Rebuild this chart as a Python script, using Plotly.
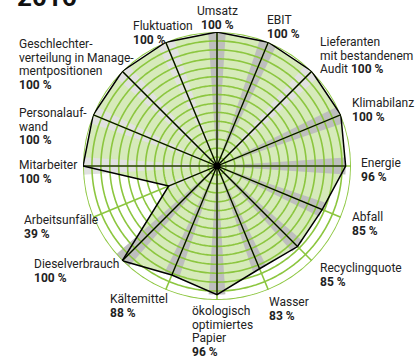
import numpy as np
import plotly.graph_objects as go

W, H = 417, 358

# ---- data ----
categories = ["Umsatz", "EBIT", "Lieferanten mit bestandenem Audit", "Klimabilanz",
              "Energie", "Abfall", "Recyclingquote", "Wasser",
              "ökologisch optimiertes Papier", "Kältemittel", "Dieselverbrauch",
              "Arbeitsunfälle", "Mitarbeiter", "Personalaufwand",
              "Geschlechterverteilung in Managementpositionen", "Fluktuation"]
values = [100, 100, 100, 100, 96, 85, 85, 83, 96, 88, 100, 39, 100, 100, 100, 100]
band_group = ["dark", "dark", "light", "dark", "dark", "dark", "dark", "dark",
              "dark", "dark", "dark", "light", "light", "light", "light", "light"]
label_lines = [
    ["Umsatz", "<b>100 %</b>"],
    ["EBIT", "<b>100 %</b>"],
    ["Lieferanten", "mit bestandenem", "Audit <b>100 %</b>"],
    ["Klimabilanz", "<b>100 %</b>"],
    ["Energie", "<b>96 %</b>"],
    ["Abfall", "<b>85 %</b>"],
    ["Recyclingquote", "<b>85 %</b>"],
    ["Wasser", "<b>83 %</b>"],
    ["ökologisch", "optimiertes", "Papier", "<b>96 %</b>"],
    ["Kältemittel", "<b>88 %</b>"],
    ["Dieselverbrauch", "<b>100 %</b>"],
    ["Arbeitsunfälle", "<b>39 %</b>"],
    ["Mitarbeiter", "<b>100 %</b>"],
    ["Personalauf-", "wand", "<b>100 %</b>"],
    ["Geschlechter-", "verteilung in Manage-", "mentpositionen", "<b>100 %</b>"],
    ["Fluktuation", "<b>100 %</b>"],
]
title_text = "2016"

# ---- layout helpers (positions in pixels) ----
label_x = [217, 265, 318, 350, 359, 350, 318, 267, 190, 108, 32, 22, 17, 17, 17, 131]
label_y = [11, 20, 42, 103, 163, 217, 268, 302, 311, 299, 264, 220, 165, 113, 44, 26]
label_anchor = ["center"] + ["left"] * 15
LINE_H = 13.6

cx, cy, R = 217, 166, 134
n = len(categories)
theta = [i * 360.0 / n for i in range(n)]
BAND_W = 7.5  # degrees

GREEN = "#8cc63f"
FILL = "rgba(140,198,63,0.36)"
DARK = "#bebebe"
LIGHT = "#e1e1e1"

fig = go.Figure()

# filled polygon
fig.add_trace(go.Scatterpolar(r=values + [values[0]], theta=theta + [theta[0]],
                              mode="lines", fill="toself", fillcolor=FILL,
                              line=dict(width=0), hoverinfo="skip"))
# grey bands (wedges from centre to value)
for a, v, g in zip(theta, values, band_group):
    arc = list(np.linspace(a - BAND_W / 2, a + BAND_W / 2, 9))
    col = DARK if g == "dark" else LIGHT
    fig.add_trace(go.Scatterpolar(r=[0] + [v] * len(arc) + [0], theta=[a] + arc + [a],
                                  mode="lines", fill="toself", fillcolor=col,
                                  line=dict(width=0, color=col), hoverinfo="skip"))
# green grid rings
ticks = [100.0 * k / 15 for k in range(1, 16)]
circ = np.linspace(0, 360, 361)
rr, tt = [], []
for t in ticks[:-1]:
    rr += [t] * len(circ) + [None]
    tt += list(circ) + [None]
fig.add_trace(go.Scatterpolar(r=rr, theta=tt, mode="lines",
                              line=dict(color=GREEN, width=1.6), hoverinfo="skip"))
fig.add_trace(go.Scatterpolar(r=[100] * len(circ), theta=list(circ), mode="lines",
                              line=dict(color=GREEN, width=2), hoverinfo="skip"))
# green spokes
sr, st = [], []
for a in theta:
    sr += [0, 100, None]
    st += [a, a, None]
fig.add_trace(go.Scatterpolar(r=sr, theta=st, mode="lines",
                              line=dict(color=GREEN, width=1.6), hoverinfo="skip"))
# black spokes to values
br, bt = [], []
for a, v in zip(theta, values):
    br += [0, v, None]
    bt += [a, a, None]
fig.add_trace(go.Scatterpolar(r=br, theta=bt, mode="lines",
                              line=dict(color="black", width=1.2), hoverinfo="skip"))
# polygon outline
fig.add_trace(go.Scatterpolar(r=values + [values[0]], theta=theta + [theta[0]],
                              mode="lines", line=dict(color="black", width=1.5),
                              hoverinfo="skip"))
# center dot
fig.add_trace(go.Scatterpolar(r=[0], theta=[0], mode="markers",
                              marker=dict(color="black", size=7), hoverinfo="skip"))

annotations = []
for lines, x0, y0, anc in zip(label_lines, label_x, label_y, label_anchor):
    for j, txt in enumerate(lines):
        annotations.append(dict(
            text=txt, x=x0 / W, y=1 - (y0 + j * LINE_H) / H,
            xref="paper", yref="paper", xanchor=anc, yanchor="middle",
            showarrow=False, align="left",
            font=dict(family="Roboto", size=12, color="#222")))
annotations.append(dict(text="<b>" + title_text + "</b>", x=15 / W, y=1 - (-3) / H,
                        xref="paper", yref="paper", xanchor="left", yanchor="middle",
                        showarrow=False,
                        font=dict(family="Roboto", size=26, color="#111")))

fig.update_layout(
    width=W, height=H, margin=dict(l=0, r=0, t=0, b=0),
    paper_bgcolor="white", plot_bgcolor="white", showlegend=False,
    polar=dict(
        domain=dict(x=[(cx - R) / W, (cx + R) / W],
                    y=[(H - cy - R) / H, (H - cy + R) / H]),
        bgcolor="white",
        radialaxis=dict(visible=False, range=[0, 100]),
        angularaxis=dict(type="linear", direction="clockwise", rotation=90,
                         showgrid=False, showticklabels=False, showline=False,
                         ticks=""),
    ),
    annotations=annotations,
)

fig.write_html("out.html")
